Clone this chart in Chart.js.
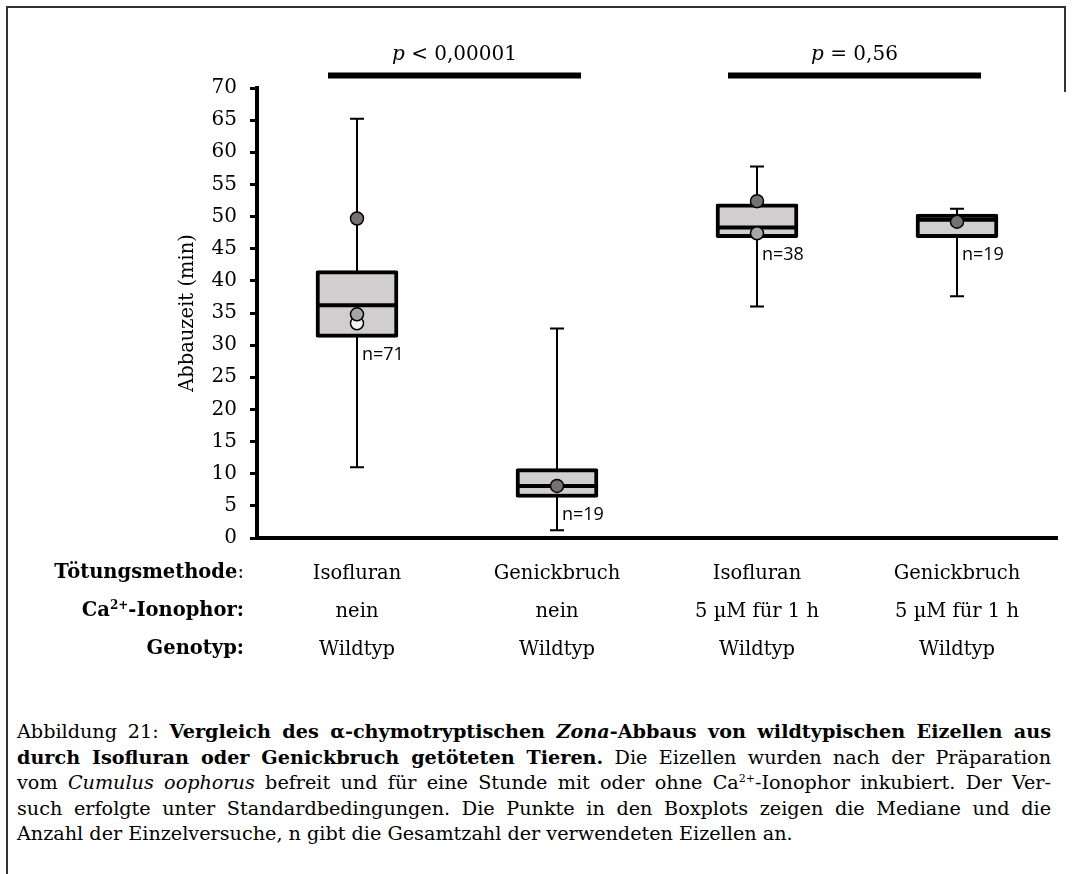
<!DOCTYPE html>
<html>
<head>
<meta charset="utf-8">
<script src="https://cdn.jsdelivr.net/npm/chart.js@4.4.1/dist/chart.umd.min.js"></script>
<style>
body { margin: 0; background: #fff; width: 1072px; height: 874px; position: relative; overflow: hidden; font-family: "DejaVu Serif", serif; color: #000; }
#frameL { position: absolute; left: 6px; top: 6px; width: 2px; height: 880px; background: #333; }
#frameT { position: absolute; left: 6px; top: 6px; width: 1060px; height: 2px; background: #333; }
#frameR { position: absolute; left: 1064px; top: 6px; width: 2px; height: 86px; background: #333; }
#wrap { position: absolute; left: 0; top: 0; width: 1072px; height: 700px; }
.rowhead { position: absolute; right: 828px; font-size: 19.5px; line-height: 24px; white-space: nowrap; }
.rowhead sup { font-size: 12px; line-height: 0; vertical-align: 7px; }
#caption { position: absolute; left: 17px; top: 719px; width: 1034px; font-size: 19.2px; line-height: 25.5px; }
#caption .j { text-align: justify; text-align-last: justify; white-space: nowrap; }
#caption sup { font-size: 11px; line-height: 0; vertical-align: 7px; }
</style>
</head>
<body>
<div id="frameL"></div><div id="frameT"></div><div id="frameR"></div>
<div id="wrap"><canvas id="myChart" width="1072" height="700"></canvas></div>
<div class="rowhead" style="top:560px"><b>Tötungsmethode</b>:</div>
<div class="rowhead" style="top:598px"><b>Ca<sup>2+</sup>-Ionophor:</b></div>
<div class="rowhead" style="top:636px"><b>Genotyp:</b></div>
<div id="caption">
<div class="j">Abbildung 21: <b>Vergleich des α-chymotryptischen <i>Zona</i>-Abbaus von wildtypischen Eizellen aus</b></div>
<div class="j"><b>durch Isofluran oder Genickbruch getöteten Tieren.</b> Die Eizellen wurden nach der Präparation</div>
<div class="j">vom <i>Cumulus oophorus</i> befreit und für eine Stunde mit oder ohne Ca<sup>2+</sup>-Ionophor inkubiert. Der Ver-</div>
<div class="j">such erfolgte unter Standardbedingungen. Die Punkte in den Boxplots zeigen die Mediane und die</div>
<div>Anzahl der Einzelversuche, n gibt die Gesamtzahl der verwendeten Eizellen an.</div>
</div>
<script>
const toetungsmethode = ['Isofluran', 'Genickbruch', 'Isofluran', 'Genickbruch'];
const ionophor = ['nein', 'nein', '5 µM für 1 h', '5 µM für 1 h'];
const genotyp = ['Wildtyp', 'Wildtyp', 'Wildtyp', 'Wildtyp'];

const whiskerMin = [11, 1.2, 36, 37.6];
const q1 = [31.2, 6.3, 46.7, 46.7];
const median = [36.2, 8.1, 48.3, 49.5];
const q3 = [41.6, 10.8, 52.0, 50.4];
const whiskerMax = [65.2, 32.6, 57.8, 51.2];

// Mediane der Einzelversuche
const punkteDunkel = [49.7, 8.1, 52.4, 49.2];
const punkteHell = [34.8, null, 47.4, null];
const punkteWeiss = [33.4, null, null, null];

const nLabels = ['n=71', 'n=19', 'n=38', 'n=19'];
const pLabels = ['< 0,00001', '= 0,56'];
const pPairs = [[0, 1], [2, 3]];

const labels = toetungsmethode.map((t, i) => [t, ionophor[i], genotyp[i]]);

const boxPlugin = {
    id: 'boxextras',
    beforeDatasetsDraw(chart) {
        const ctx = chart.ctx;
        const x = chart.scales.x, y = chart.scales.y;
        ctx.save();
        ctx.strokeStyle = '#000';
        ctx.lineWidth = 2;
        whiskerMin.forEach((lo, i) => {
            const px = x.getPixelForValue(i);
            const yLo = y.getPixelForValue(lo), yHi = y.getPixelForValue(whiskerMax[i]);
            ctx.beginPath();
            ctx.moveTo(px, yLo); ctx.lineTo(px, yHi);
            ctx.moveTo(px - 7, yLo); ctx.lineTo(px + 7, yLo);
            ctx.moveTo(px - 7, yHi); ctx.lineTo(px + 7, yHi);
            ctx.stroke();
        });
        ctx.restore();
    },
    afterDatasetDraw(chart, args) {
        if (args.index !== 0) return;
        const ctx = chart.ctx;
        const y = chart.scales.y;
        const meta = chart.getDatasetMeta(0);
        ctx.save();
        ctx.strokeStyle = '#000';
        ctx.lineWidth = 4;
        median.forEach((m, i) => {
            const bar = meta.data[i];
            const py = y.getPixelForValue(m);
            ctx.beginPath();
            ctx.moveTo(bar.x - bar.width / 2 + 1, py);
            ctx.lineTo(bar.x + bar.width / 2 - 1, py);
            ctx.stroke();
        });
        ctx.restore();
    },
    afterDraw(chart) {
        const ctx = chart.ctx;
        const x = chart.scales.x, y = chart.scales.y;
        ctx.save();
        ctx.fillStyle = '#000';
        ctx.font = '18px "Open Sans"';
        ctx.textBaseline = 'middle';
        nLabels.forEach((t, i) => {
            ctx.fillText(t, x.getPixelForValue(i) + 5, y.getPixelForValue(q1[i]) + 17);
        });
        // Signifikanzbalken
        ctx.lineWidth = 6;
        ctx.strokeStyle = '#000';
        pPairs.forEach((pair, k) => {
            const x1 = x.getPixelForValue(pair[0]) - 29;
            const x2 = x.getPixelForValue(pair[1]) + 24;
            ctx.beginPath();
            ctx.moveTo(x1, 75.5); ctx.lineTo(x2, 75.5);
            ctx.stroke();
            const rest = ' ' + pLabels[k];
            ctx.font = 'italic 20px "DejaVu Serif"';
            const wp = ctx.measureText('p').width;
            ctx.font = '20px "DejaVu Serif"';
            const wr = ctx.measureText(rest).width;
            const cx = (x1 + x2) / 2;
            const sx = cx - (wp + wr) / 2;
            ctx.textBaseline = 'alphabetic';
            ctx.font = 'italic 20px "DejaVu Serif"';
            ctx.fillText('p', sx, 60);
            ctx.font = '20px "DejaVu Serif"';
            ctx.fillText(rest, sx + wp, 60);
        });
        ctx.restore();
    }
};

const ctx = document.getElementById('myChart');
new Chart(ctx, {
    type: 'bar',
    data: {
        labels: labels,
        datasets: [
            {
                label: 'Box',
                data: q1.map((v, i) => [v, q3[i]]),
                backgroundColor: '#d0cece',
                borderColor: '#000',
                borderWidth: 4,
                borderSkipped: false,
                borderRadius: 2,
                barThickness: 82,
                order: 5
            },
            {
                type: 'line', label: 'Mediane', data: punkteDunkel, showLine: false,
                pointRadius: 6.5, pointBackgroundColor: '#767171', pointBorderColor: '#000', pointBorderWidth: 1.5,
                clip: false, order: 1
            },
            {
                type: 'line', label: 'Mediane 2', data: punkteHell, showLine: false,
                pointRadius: 6.5, pointBackgroundColor: '#a6a6a6', pointBorderColor: '#000', pointBorderWidth: 1.5,
                clip: false, order: 2
            },
            {
                type: 'line', label: 'Mediane 3', data: punkteWeiss, showLine: false,
                pointRadius: 6.5, pointBackgroundColor: '#f2f2f2', pointBorderColor: '#000', pointBorderWidth: 1.5,
                clip: false, order: 3
            }
        ]
    },
    options: {
        responsive: false,
        animation: false,
        layout: { padding: { left: 157, top: 88, right: 15, bottom: 0 } },
        plugins: { legend: { display: false }, tooltip: { enabled: false } },
        scales: {
            x: {
                grid: { display: false, drawTicks: false },
                border: { display: true, color: '#000', width: 4 },
                ticks: {
                    color: '#000',
                    font: { family: 'DejaVu Serif', size: 19.5, lineHeight: 38 / 19.5 },
                    padding: 17,
                    maxRotation: 0,
                    autoSkip: false
                },
                afterFit: s => { s.height = 162; }
            },
            y: {
                min: 0,
                max: 70,
                ticks: {
                    stepSize: 5,
                    color: '#000',
                    font: { family: 'DejaVu Serif', size: 20 },
                    padding: 13
                },
                grid: { drawOnChartArea: false, drawTicks: true, tickLength: 7, tickColor: '#000', tickWidth: 3 },
                border: { color: '#000', width: 4 },
                title: {
                    display: true,
                    text: 'Abbauzeit (min)',
                    color: '#000',
                    font: { family: 'DejaVu Serif', size: 19.5 },
                    padding: { top: 19, bottom: 0 }
                },
                afterFit: s => { s.width = 100; }
            }
        }
    },
    plugins: [boxPlugin]
});
</script>
</body>
</html>
